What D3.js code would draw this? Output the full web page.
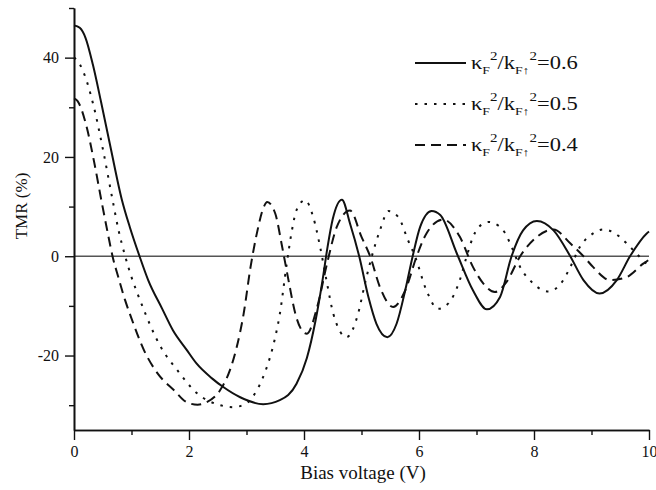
<!DOCTYPE html>
<html>
<head>
<meta charset="utf-8">
<script src="https://cdn.jsdelivr.net/npm/d3@7"></script>
<style>
	body { margin: 0; background: #fff; }
	svg text { font-family: "Liberation Serif", "Times New Roman", serif; fill: #111; }
</style>
</head>
<body>
<svg id="chart" width="656" height="490"></svg>
<script>

// bias voltage (V) / TMR (%), one list per kappa ratio
var ratios	=	['0.6', '0.5', '0.4'];

var v06		=	[0, 0.1, 0.2, 0.33, 0.47, 0.64, 0.83, 0.97, 1.14, 1.29, 1.53, 1.72, 1.95, 2.13, 2.4, 2.59, 2.89, 3.29, 3.58, 3.87, 4.05, 4.2, 4.32, 4.41, 4.5, 4.66, 4.8, 4.96, 5.12, 5.26, 5.45, 5.61, 5.76, 5.89, 6.02, 6.22, 6.37, 6.66, 6.94, 7.18, 7.41, 7.61, 7.81, 8.05, 8.34, 8.63, 8.86, 9.14, 9.44, 9.67, 9.96, 10];
var tmr06	=	[46.5, 46.0, 44.0, 38.5, 31.1, 21.7, 11.5, 5.9, 0, -4.8, -10.5, -14.9, -18.7, -21.6, -24.6, -26.3, -28.4, -29.8, -29, -25.7, -20.5, -13, -5, 1.9, 7.5, 11.4, 6.6, 0, -8.2, -13.6, -16.3, -13.6, -6.9, 0, 5.9, 9.1, 8.3, 0.5, -6.9, -10.7, -8.2, 0, 5.2, 7.1, 5.2, 0, -4.8, -7.5, -4.8, 0, 4.6, 5];

var v05		=	[0, 0.05, 0.15, 0.33, 0.5, 0.66, 0.77, 0.89, 1.0, 1.15, 1.51, 1.8, 2.13, 2.54, 2.77, 3.0, 3.18, 3.29, 3.41, 3.5, 3.58, 3.7, 3.79, 3.87, 4.02, 4.16, 4.28, 4.39, 4.51, 4.74, 4.94, 5.06, 5.18, 5.32, 5.47, 5.64, 5.81, 5.93, 6.13, 6.33, 6.51, 6.71, 6.83, 6.94, 7.12, 7.22, 7.29, 7.5, 7.61, 7.76, 7.96, 8.25, 8.51, 8.63, 8.8, 9.03, 9.2, 9.41, 9.61, 9.81, 10];
var tmr05	=	[40, 39.5, 37.5, 30.8, 21.7, 12, 5.5, 0, -4.2, -8.9, -18.3, -23, -27.5, -30, -30.4, -29.6, -27, -24.3, -20.3, -16.3, -11.6, -1.5, 5.2, 9.3, 11.3, 7.9, 1.9, -4.8, -11.6, -16.3, -11.6, -5.5, 0, 5.2, 9.1, 7.9, 3.2, 0, -6.9, -10.6, -9.5, -4.8, 0, 3.9, 6.6, 6.9, 6.7, 4.6, 1.9, -2.2, -5.2, -7.1, -4.8, -2.2, 1.9, 4.6, 5.4, 4.6, 2.6, 0.2, -2];

var v04		=	[0, 0.06, 0.21, 0.35, 0.48, 0.59, 0.67, 0.77, 0.89, 0.99, 1.22, 1.46, 1.74, 1.96, 2.15, 2.31, 2.54, 2.71, 2.83, 2.95, 3.07, 3.18, 3.3, 3.36, 3.5, 3.62, 3.73, 3.85, 3.99, 4.05, 4.23, 4.4, 4.57, 4.8, 5.0, 5.15, 5.32, 5.55, 5.76, 5.96, 6.13, 6.42, 6.71, 6.94, 7.12, 7.32, 7.52, 7.76, 8.05, 8.34, 8.63, 8.86, 9.03, 9.32, 9.61, 9.9, 10];
var tmr04	=	[31.8, 31.3, 26.5, 19, 11, 4.5, 0, -4.2, -8.9, -12.2, -19, -23.7, -27, -29.4, -29.9, -29.4, -27, -23, -18.3, -11.6, -2.2, 4.6, 9.9, 10.9, 8.6, 1.9, -4.8, -11.6, -15.3, -15.6, -10.2, -1.5, 5.9, 9.2, 3.9, 0, -6.2, -10.2, -6.9, 0, 4.6, 7.4, 3.9, -2.2, -5.5, -7.2, -5.2, 0, 3.9, 5.4, 2.6, 0, -2.2, -4.8, -4.2, -1.5, -0.7];

var xTicks	=	[0, 2, 4, 6, 8, 10];
var xMinor	=	[1, 3, 5, 7, 9];
var yTicks	=	[-20, 0, 20, 40];
var yMinor	=	[-30, -10, 10, 30, 50];

var series	=	[
	{ name: ratios[0], v: v06, tmr: tmr06, dash: null },
	{ name: ratios[1], v: v05, tmr: tmr05, dash: '2.5,7' },
	{ name: ratios[2], v: v04, tmr: tmr04, dash: '10,6' }
];

var svg = d3.select('#chart');

var x = d3.scaleLinear().domain([0, 10]).range([74, 649]);
var y = d3.scaleLinear().domain([-35, 50]).range([430, 8]);

// zero line
svg.append('line')
	.attr('x1', x(0)).attr('x2', x(10))
	.attr('y1', y(0)).attr('y2', y(0))
	.attr('stroke', '#555').attr('stroke-width', 1.4);

// axes: major ticks labelled, minor ticks shorter
var fmt = function(d) { return String(d); };

var gx = svg.append('g').attr('transform', 'translate(0,' + y(-35) + ')');
gx.call(d3.axisBottom(x).tickValues(xTicks).tickSize(10).tickPadding(6).tickSizeOuter(0).tickFormat(fmt));
gx.append('g').call(d3.axisBottom(x).tickValues(xMinor).tickSize(5).tickFormat('').tickSizeOuter(0));

var gy = svg.append('g').attr('transform', 'translate(' + x(0) + ',0)');
gy.call(d3.axisLeft(y).tickValues(yTicks).tickSize(9).tickPadding(6).tickSizeOuter(0).tickFormat(fmt));
gy.append('g').call(d3.axisLeft(y).tickValues(yMinor).tickSize(5).tickFormat('').tickSizeOuter(0));

svg.selectAll('g').attr('font-family', '"Liberation Serif", serif');
svg.selectAll('.domain').attr('stroke', '#111').attr('stroke-width', 1.6);
svg.selectAll('.tick line').attr('stroke', '#111').attr('stroke-width', 1.4);
svg.selectAll('.tick text').style('font-size', '16px').attr('fill', '#222');

// curves
var line = d3.line()
	.x(function(d) { return x(d[0]); })
	.y(function(d) { return y(d[1]); })
	.curve(d3.curveMonotoneX);

series.forEach(function(s) {
	var pts = s.v.map(function(v, i) { return [v, s.tmr[i]]; });
	svg.append('path')
		.datum(pts)
		.attr('d', line)
		.attr('fill', 'none')
		.attr('stroke', '#111')
		.attr('stroke-width', 2)
		.attr('stroke-dasharray', s.dash);
});

// axis titles
svg.append('text')
	.attr('x', 363).attr('y', 479)
	.attr('text-anchor', 'middle')
	.style('font-size', '19px')
	.text('Bias voltage (V)');

svg.append('text')
	.attr('transform', 'translate(27,206) rotate(-90)')
	.attr('text-anchor', 'middle')
	.style('font-size', '17px')
	.text('TMR (%)');

// legend (glyphs in the figure are a bit wider than tall)
var legend = svg.append('g');
series.forEach(function(s, i) {
	var ly = 63 + i * 41;
	legend.append('line')
		.attr('x1', 415).attr('x2', 466)
		.attr('y1', ly).attr('y2', ly)
		.attr('stroke', '#111').attr('stroke-width', 2)
		.attr('stroke-dasharray', s.dash);

	var t = legend.append('text')
		.attr('transform', 'translate(471,' + (ly + 6) + ') scale(1.25,1)')
		.style('font-size', '18px');
	t.append('tspan').text('κ');
	t.append('tspan').attr('dy', 5).style('font-size', '11px').text('F');
	t.append('tspan').attr('dy', -14).style('font-size', '12px').text('2');
	t.append('tspan').attr('dy', 9).text('/k');
	t.append('tspan').attr('dy', 5).style('font-size', '11px').text('F↑');
	t.append('tspan').attr('dy', -14).style('font-size', '12px').text('2');
	t.append('tspan').attr('dy', 9).text('=' + s.name);
});

</script>
</body>
</html>
